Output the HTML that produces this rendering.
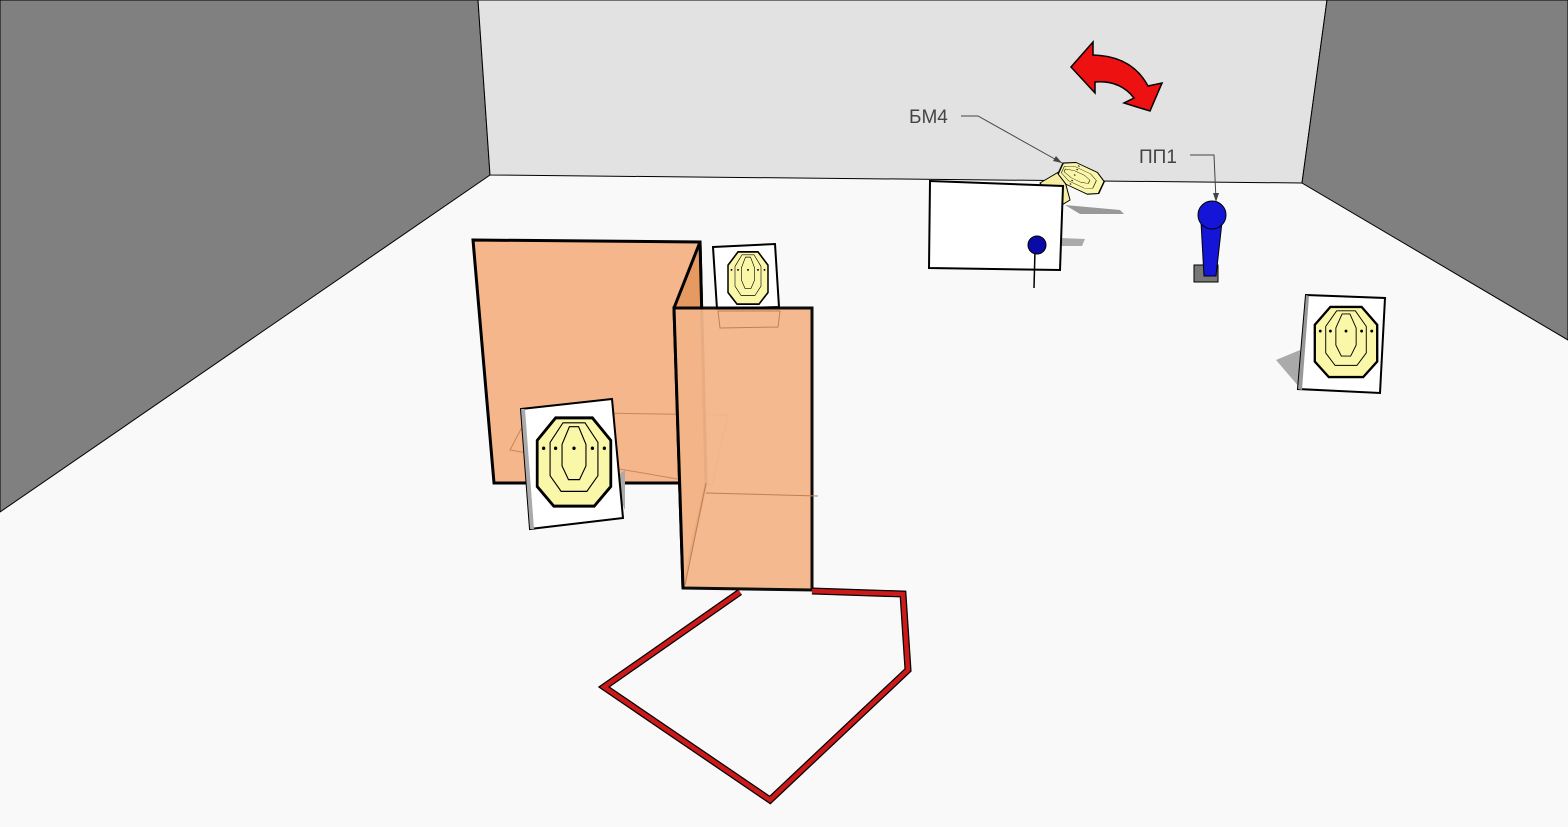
<!DOCTYPE html>
<html><head><meta charset="utf-8"><style>html,body{margin:0;padding:0;background:#f9f9f9}svg{display:block}</style></head><body>
<svg width="1568" height="827" viewBox="0 0 1568 827" xmlns="http://www.w3.org/2000/svg">
<defs>
<g id="tgt">
<polygon points="-20,-45 20,-45 40,-22 40,25 22,45 -22,45 -40,25 -40,-22" fill="#fbf7a9" stroke="#000" stroke-width="3"/>
<polygon points="-12,-40 12,-40 26,-20 26,14 14,30 -14,30 -26,14 -26,-20" fill="none" stroke="#000" stroke-width="1.2"/>
<polygon points="-5,-36 5,-36 13,-18 13,4 6,18 -6,18 -13,4 -13,-18" fill="none" stroke="#000" stroke-width="1.2"/>
<circle cx="0" cy="-14" r="1.8"/><circle cx="-20" cy="-14" r="1.8"/><circle cx="20" cy="-14" r="1.8"/><circle cx="-33" cy="-14" r="1.8"/><circle cx="33" cy="-14" r="1.8"/>
</g>
</defs>
<rect width="1568" height="827" fill="#f9f9f9"/>
<polygon points="0,0 478,0 490,175 0,512" fill="#808080" stroke="#000" stroke-width="1"/>
<polygon points="478,0 1327,0 1302,183 490,175" fill="#e2e2e2" stroke="#000" stroke-width="1"/>
<polygon points="1327,0 1568,0 1568,340 1302,183" fill="#808080" stroke="#000" stroke-width="1"/>
<!-- red arrow -->
<path d="M1071,67 L1093,42 L1093,55 Q1132,56 1148,86 L1162,83 L1150,111 L1124,103 L1134,98 Q1120,80 1095,82 L1095,93 Z" fill="#ee1111" stroke="#000" stroke-width="1.5"/>
<!-- labels -->
<text x="909" y="123" font-family="Liberation Sans, DejaVu Sans, sans-serif" font-size="19" fill="#444">БМ4</text>
<polyline points="961,116 978,116 1062,163" fill="none" stroke="#444" stroke-width="1"/>
<polygon points="1062,163 1053,161 1056,156" fill="#444"/>
<text x="1139" y="163" font-family="Liberation Sans, DejaVu Sans, sans-serif" font-size="19" fill="#444">ПП1</text>
<polyline points="1190,155 1214,155 1216,200" fill="none" stroke="#444" stroke-width="1"/>
<polygon points="1216,202 1213,193 1219,193" fill="#444"/>
<!-- BM4 -->
<polygon points="1040,183 1062,170 1070,200 1060,206" fill="#f6eda0" stroke="#000" stroke-width="1"/>
<polygon points="1065,205 1120,210 1124,214 1080,214" fill="#999"/>
<g transform="translate(1081,178) rotate(-65) scale(0.3,0.5)"><use href="#tgt"/></g>
<!-- white board -->
<polygon points="1060,238 1085,239 1082,246 1060,246" fill="#aaa"/>
<polygon points="930,181 1063,186 1060,270 929,268" fill="#fff" stroke="#000" stroke-width="2"/>
<line x1="1035" y1="250" x2="1034" y2="288" stroke="#000" stroke-width="1.5"/>
<circle cx="1037" cy="245" r="9" fill="#0a0aa8" stroke="#000" stroke-width="1"/>
<!-- PP1 -->
<polygon points="1194,265 1218,265 1218,282 1194,282" fill="#777" stroke="#000"/>
<polygon points="1201,222 1222,222 1216,276 1204,276" fill="#1515d8" stroke="#000" stroke-width="1"/>
<circle cx="1212" cy="215" r="14" fill="#1515d8" stroke="#000" stroke-width="1"/>
<!-- right target -->
<polygon points="1276,360 1300,350 1300,388" fill="#aaa"/>
<polygon points="1306,295 1385,298 1380,393 1298,389" fill="#fff" stroke="#000" stroke-width="2"/>
<polygon points="1306,295 1298,389 1302,390 1309,296" fill="#999"/>
<g transform="translate(1346,342) scale(0.78)"><use href="#tgt"/></g>
<!-- left orange panel -->
<polygon points="473,240 700,242 706,483 494,483" fill="#f4b68a" stroke="#000" stroke-width="3"/>
<polygon points="510,450 530,412 728,415 712,485" fill="none" stroke="#c9875a" stroke-width="1"/>
<!-- small target top -->
<polygon points="713,247 775,244 779,307 717,309" fill="#fff" stroke="#000" stroke-width="2"/>
<g transform="translate(748,278) scale(0.5,0.58)"><use href="#tgt"/></g>
<!-- side panel -->
<polygon points="700,242 674,308 683,588 706,483" fill="#e59a62" stroke="#000" stroke-width="3"/>
<!-- front panel -->
<polygon points="674,308 812,308 812,590 683,588" fill="#f4b68a" stroke="#000" stroke-width="3" opacity="0.95"/>
<polygon points="718,311 780,311 778,327 720,328" fill="none" stroke="#c08050" stroke-width="1"/>
<line x1="706" y1="493" x2="818" y2="496" stroke="#c08050" stroke-width="1"/>
<line x1="706" y1="483" x2="685" y2="585" stroke="#c08050" stroke-width="1"/>
<!-- big target card -->
<polygon points="612,480 625,470 625,510" fill="#aaa"/>
<polygon points="521,409 612,399 623,518 530,529" fill="#fff" stroke="#000" stroke-width="2"/>
<polygon points="521,409 530,529 534,529 525,409" fill="#aaa"/>
<g transform="translate(574,462) scale(0.92,0.98)"><use href="#tgt"/></g>
<!-- red fault line -->
<polyline points="740,592 604,687 770,800 908,670 903,594 812,591" fill="none" stroke="#000" stroke-width="7" stroke-linejoin="miter"/>
<polyline points="740,592 604,687 770,800 908,670 903,594 812,591" fill="none" stroke="#cc1a1a" stroke-width="4.5" stroke-linejoin="miter"/>
</svg>
</body></html>
